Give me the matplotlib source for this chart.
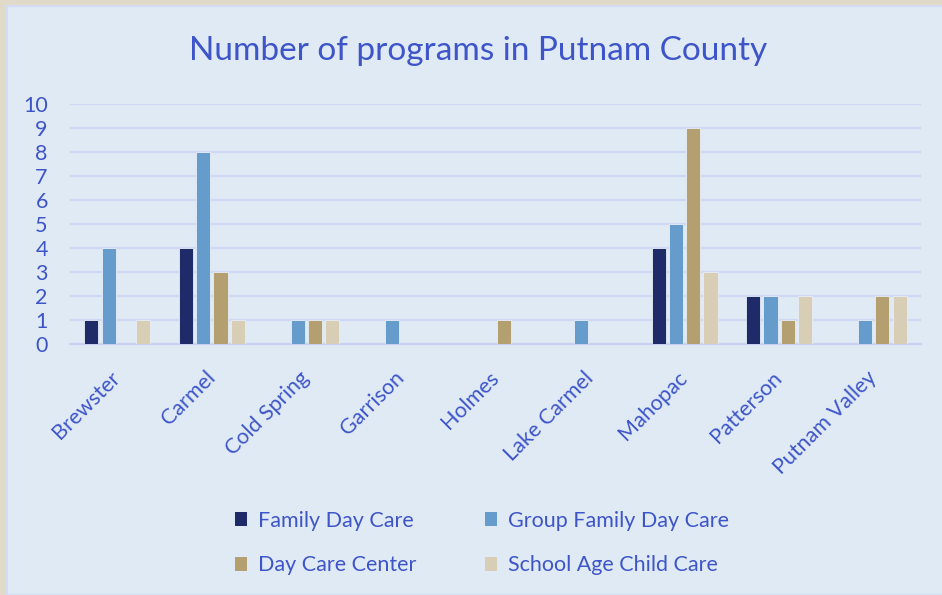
import numpy as np
import matplotlib.pyplot as plt
from matplotlib.patches import Rectangle, Patch
import matplotlib.transforms as mtransforms

# data
towns = ["Brewster", "Carmel", "Cold Spring", "Garrison", "Holmes",
         "Lake Carmel", "Mahopac", "Patterson", "Putnam Valley"]
family_day_care = [1, 4, 0, 0, 0, 0, 4, 2, 0]
group_family_day_care = [4, 8, 1, 1, 0, 1, 5, 2, 1]
day_care_center = [0, 3, 1, 0, 1, 0, 9, 1, 2]
school_age_child_care = [1, 1, 1, 0, 0, 0, 3, 2, 2]
series_names = ["Family Day Care", "Group Family Day Care",
                "Day Care Center", "School Age Child Care"]

colors = ["#1f2a68", "#659ccc", "#b49f71", "#d8cdb5"]
text_color = "#3d55c8"
grid_color = "#cfd8f2"
panel_color = "#e0eaf5"

plt.rcParams['font.family'] = ['Lato', 'DejaVu Sans']

W, H = 942, 595
fig = plt.figure(figsize=(W / 100, H / 100), dpi=100)
fig.patch.set_facecolor("#e2dac8")
# chart panel (behind the axes)
fig.patches.append(Rectangle((7 / W, 0), 1, (H - 6) / H, transform=fig.transFigure,
                             facecolor=panel_color, edgecolor="#d3dcf5", linewidth=1.5,
                             zorder=-10))

ax = fig.add_axes([70 / W, (H - 344) / H, 851 / W, 240 / H])
ax.set_facecolor("none")

x = np.arange(len(towns))
values = [family_day_care, group_family_day_care, day_care_center, school_age_child_care]
step = 0.183
bw = 0.150
for i, (vals, c, name) in enumerate(zip(values, colors, series_names)):
    ax.bar(x + (i - 1.5) * step, vals, width=bw, color=c, edgecolor="#e8eef8",
           linewidth=0.6, label=name, zorder=3)

ax.set_xlim(-0.5, len(towns) - 0.5)
ax.set_ylim(0, 10)
ax.set_yticks(range(0, 11))
ax.yaxis.grid(True, color=grid_color, linewidth=1.6, zorder=0)
ax.set_axisbelow(True)
for s in ["top", "right", "left"]:
    ax.spines[s].set_visible(False)
ax.spines["bottom"].set_color("#c8d1ef")
ax.spines["bottom"].set_linewidth(1.6)
ax.tick_params(axis='y', length=0, labelsize=15.5, labelcolor=text_color, pad=16)
ax.tick_params(axis='x', length=0, labelsize=15.5, labelcolor=text_color, pad=17)
ax.set_xticks(x)
ax.set_xticklabels(towns, rotation=45, ha='right', va='top')
offset = mtransforms.ScaledTranslation(7 / 100, 0, fig.dpi_scale_trans)
for lbl in ax.get_xticklabels():
    lbl.set_transform(lbl.get_transform() + offset)

fig.text(478 / W, 1 - 51 / H, "Number of programs in Putnam County",
         ha='center', va='center', fontsize=24, color=text_color)

handles = [Patch(facecolor=c, edgecolor='none') for c in colors]
order = [0, 2, 1, 3]
leg = fig.legend([handles[i] for i in order], [series_names[i] for i in order],
                 ncol=2, loc='center left', bbox_to_anchor=(216 / W, 1 - 543 / H),
                 frameon=False, fontsize=15.5, handlelength=0.55, handleheight=0.6,
                 handletextpad=0.5, columnspacing=3.2, labelspacing=1.15)
for t in leg.get_texts():
    t.set_color(text_color)

fig.savefig("out.png", dpi=100, facecolor=fig.get_facecolor())
